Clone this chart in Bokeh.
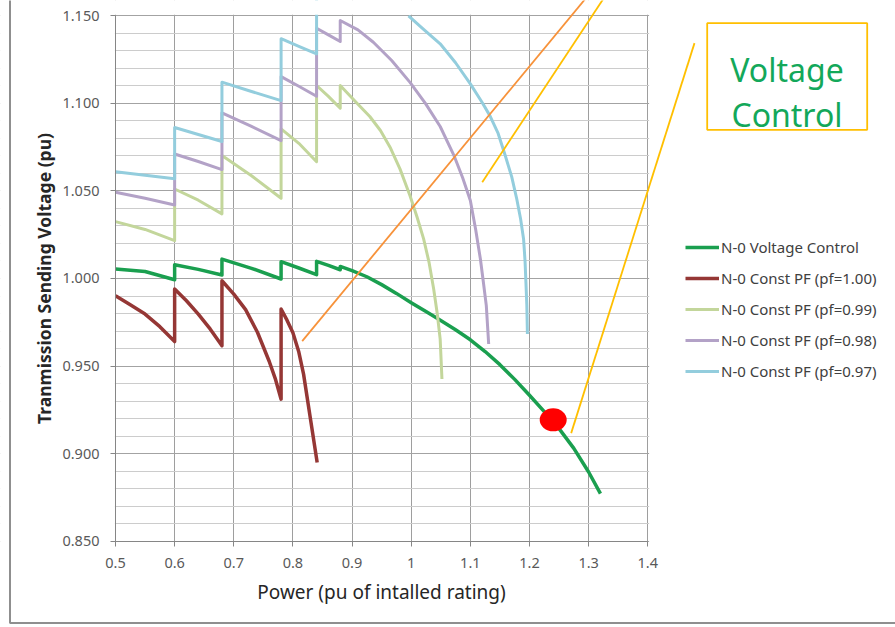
from bokeh.plotting import figure
from bokeh.models import (Range1d, LinearAxis, FixedTicker, Grid, Legend, LegendItem,
                          Label)
from bokeh.embed import file_html
from bokeh.resources import INLINE

NAN = float("nan")

# ---------------- data ----------------
X_TICKS = [0.5, 0.6, 0.7, 0.8, 0.9, 1.0, 1.1, 1.2, 1.3, 1.4]
X_LABELS = ["0.5", "0.6", "0.7", "0.8", "0.9", "1", "1.1", "1.2", "1.3", "1.4"]
Y_TICKS = [0.85, 0.90, 0.95, 1.00, 1.05, 1.10, 1.15]
Y_LABELS = ["0.850", "0.900", "0.950", "1.000", "1.050", "1.100", "1.150"]
Y_MINOR = [0.86, 0.87, 0.88, 0.89, 0.91, 0.92, 0.93, 0.94, 0.96, 0.97, 0.98, 0.99,
           1.01, 1.02, 1.03, 1.04, 1.06, 1.07, 1.08, 1.09, 1.11, 1.12, 1.13, 1.14]

SERIES_NAMES = ["N-0 Voltage Control", "N-0 Const PF (pf=1.00)", "N-0 Const PF (pf=0.99)",
                "N-0 Const PF (pf=0.98)", "N-0 Const PF (pf=0.97)"]

VC_X = [0.50, 0.55, 0.60, 0.60, 0.64, 0.68, 0.68, 0.73, 0.78, 0.78, 0.81, 0.84, 0.84, 0.86,
        0.88, 0.88, 0.90, 0.925, 0.95, 0.975, 1.00, 1.025, 1.05, 1.075, 1.10, 1.125, 1.15,
        1.175, 1.20, 1.225, 1.25, 1.275, 1.30, 1.32]
VC_Y = [1.0054, 1.0040, 0.9993, 1.0079, 1.0052, 1.0020, 1.0111, 1.0058, 0.9997, 1.0096,
        1.0060, 1.0022, 1.0098, 1.0075, 1.0050, 1.0069, 1.0045, 1.0010, 0.9965, 0.9915,
        0.9862, 0.9811, 0.9760, 0.9707, 0.9650, 0.9583, 0.9508, 0.9424, 0.9333, 0.9240,
        0.9143, 0.9030, 0.8895, 0.8772]

PF100_X = [0.50, 0.525, 0.55, 0.575, 0.60, 0.60, 0.62, 0.64, 0.66, 0.68, 0.68, 0.70, 0.72,
           0.74, 0.76, 0.77, 0.78, 0.78, 0.79, 0.80, 0.81, 0.818, 0.83, 0.841]
PF100_Y = [0.9902, 0.9850, 0.9797, 0.9725, 0.9640, 0.9940, 0.9873, 0.9797, 0.9712, 0.9616,
           0.9987, 0.9911, 0.9822, 0.9693, 0.9526, 0.9430, 0.9311, 0.9826, 0.9762, 0.9690,
           0.9580, 0.9454, 0.9190, 0.8949]

PF99_X = [0.50, 0.55, 0.60, 0.60, 0.64, 0.68, 0.68, 0.73, 0.78, 0.78, 0.81, 0.84, 0.84, 0.86,
          0.88, 0.88, 0.91, 0.93, 0.948, 0.965, 0.981, 0.998, 1.01, 1.021, 1.03, 1.038, 1.044,
          1.049, 1.052]
PF99_Y = [1.0325, 1.0280, 1.0216, 1.0511, 1.0447, 1.0369, 1.0702, 1.0587, 1.0458, 1.0854,
          1.0772, 1.0667, 1.1102, 1.1040, 1.0972, 1.1102, 1.0995, 1.0925, 1.0845, 1.0745,
          1.0626, 1.0473, 1.0350, 1.0226, 1.0095, 0.9940, 0.9800, 0.9654, 0.9426]

PF98_X = [0.50, 0.55, 0.60, 0.60, 0.64, 0.68, 0.68, 0.73, 0.78, 0.78, 0.81, 0.84, 0.84, 0.86,
          0.88, 0.88, 0.91, 0.936, 0.967, 0.998, 1.024, 1.049, 1.072, 1.087, 1.100, 1.109,
          1.117, 1.122, 1.127, 1.131]
PF98_Y = [1.0492, 1.0458, 1.0420, 1.0711, 1.0668, 1.0622, 1.0946, 1.0868, 1.0787, 1.1153,
          1.1098, 1.1041, 1.1429, 1.1391, 1.1353, 1.1473, 1.1420, 1.1349, 1.1245, 1.1120,
          1.1000, 1.0868, 1.0705, 1.0575, 1.0445, 1.0280, 1.0111, 0.9980, 0.9845, 0.9626]

# pf=0.97 leaves the chart above 1.150 between 0.84 and ~0.995 (gap = off-chart)
PF97_X = [0.50, 0.55, 0.60, 0.60, 0.64, 0.68, 0.68, 0.73, 0.78, 0.78, 0.81, 0.84, 0.84, NAN,
          0.9955, 1.02, 1.049, 1.075, 1.100, 1.12, 1.133, 1.147, 1.159, 1.17, 1.1785, 1.185,
          1.190, 1.1925, 1.194, 1.1955, 1.1965]
PF97_Y = [1.0610, 1.0590, 1.0569, 1.0862, 1.0822, 1.0782, 1.1121, 1.1068, 1.1016, 1.1369,
          1.1326, 1.1283, 1.1650, NAN, 1.1500, 1.1425, 1.1340, 1.1232, 1.1111, 1.1005,
          1.0930, 1.0828, 1.0702, 1.0580, 1.0454, 1.0340, 1.0226, 1.0100, 0.9978, 0.9850,
          0.9683]

# operating point and callouts (data units)
POINT_X = [1.2401]
POINT_Y = [0.9193]
ORANGE_X = [0.8157, 1.306]
ORANGE_Y = [0.9642, 1.1644]
GOLD1_X = [1.1201, 1.3341]
GOLD1_Y = [1.0550, 1.1644]
GOLD2_X = [1.2705, 1.4790]
GOLD2_Y = [0.9117, 1.1344]
CALLOUT_TEXT = ["Voltage", "Control"]

COLORS = ["#1a9f4f", "#953735", "#c3d69b", "#b3a2c7", "#93cddd"]

# ---------------- geometry ----------------
W, H = 895, 627
PX0, SX = 115.0, 591.4     # pixel of x=0.5, pixels per unit
PY0, SY = 15.3, 1751.3     # pixel of y=1.15, pixels per unit


def dx(px):
    return 0.5 + (px - PX0) / SX


def dy(py):
    return 1.15 - (py - PY0) / SY


p = figure(width=W, height=H,
           x_range=Range1d(dx(0), dx(W)), y_range=Range1d(dy(H), dy(0)),
           output_backend="svg", toolbar_location=None,
           x_axis_location=None, y_axis_location=None,
           min_border=0, outline_line_color=None,
           background_fill_color="white", border_fill_color="white")
p.center = [r for r in p.center if not isinstance(r, Grid)]

xgrid = Grid(dimension=0, ticker=FixedTicker(ticks=X_TICKS),
             grid_line_color="#9e9e9e", grid_line_width=1)
ygrid = Grid(dimension=1, ticker=FixedTicker(ticks=Y_TICKS, minor_ticks=Y_MINOR),
             grid_line_color="#a3a3a3", grid_line_width=1,
             minor_grid_line_color="#cccccc", minor_grid_line_width=1)
p.add_layout(xgrid)
p.add_layout(ygrid)

series = [(VC_X, VC_Y, 3.5), (PF100_X, PF100_Y, 3.5), (PF99_X, PF99_Y, 3),
          (PF98_X, PF98_Y, 3), (PF97_X, PF97_Y, 3)]
renderers = []
for (xs, ys, lw), c in zip(series, COLORS):
    renderers.append(p.line(xs, ys, line_color=c, line_width=lw, line_join="round"))

# white masks outside the plot area (hide grid / clipped curves)
# each mask: (left_px, right_px, top_px, bottom_px)
masks = [(-10, 114.4, -10, H + 10),        # left
         (-10, W + 10, -10, 14.2),         # top
         (-10, W + 10, 541.6, H + 10),     # bottom
         (648.6, W + 10, -10, H + 10)]     # right
p.quad(left=[dx(m[0]) for m in masks], right=[dx(m[1]) for m in masks],
       top=[dy(m[2]) for m in masks], bottom=[dy(m[3]) for m in masks],
       fill_color="white", line_color=None)

# outer chart-area border (left and bottom visible)
p.line([dx(9.5), dx(9.5), dx(W + 10)], [dy(-10), dy(622.5), dy(622.5)],
       line_color="#8f8f8f", line_width=2)

# operating point
p.ellipse(x=POINT_X, y=POINT_Y, width=27, height=23, width_units="screen",
          height_units="screen", fill_color="#ff0000", line_color=None)

# callout lines
p.line(ORANGE_X, ORANGE_Y, line_color="#f7923a", line_width=1.8)
p.line(GOLD1_X, GOLD1_Y, line_color="#ffbf00", line_width=1.8)
p.line(GOLD2_X, GOLD2_Y, line_color="#ffbf00", line_width=1.8)

# callout box
p.quad(left=[dx(706.7)], right=[dx(866.7)], top=[dy(22.7)], bottom=[dy(129.3)],
       fill_color="white", line_color="#ffbf00", line_width=1.8)
for txt, by in zip(CALLOUT_TEXT, [68.5, 113.5]):
    p.add_layout(Label(x=dx(786.5), y=dy(by), text=txt, text_align="center",
                       text_baseline="alphabetic", text_font="Noto Sans",
                       text_font_size="32px", text_color="#13a85a"))

# axes
axis_style = dict(axis_line_color="#868686", major_tick_line_color="#868686",
                  major_tick_out=5, major_tick_in=0, minor_tick_out=0, minor_tick_in=0,
                  major_label_text_font="Noto Sans", major_label_text_font_size="14.5px",
                  major_label_text_color="#595959")
yaxis = LinearAxis(ticker=FixedTicker(ticks=Y_TICKS), fixed_location=0.5, bounds=(0.85, 1.15),
                   major_label_overrides={t: l for t, l in zip(Y_TICKS, Y_LABELS)},
                   major_label_standoff=11, **axis_style)
xaxis = LinearAxis(ticker=FixedTicker(ticks=X_TICKS), fixed_location=0.85, bounds=(0.5, 1.4),
                   major_label_overrides={t: l for t, l in zip(X_TICKS, X_LABELS)},
                   major_label_standoff=12, **axis_style)
p.add_layout(yaxis, "left")
p.add_layout(xaxis, "below")

# axis titles
p.add_layout(Label(x=dx(381), y=dy(591), text="Power (pu of intalled rating)",
                   text_align="center", text_baseline="middle", text_font="Noto Sans",
                   text_font_size="19px", text_color="#262626"))
p.add_layout(Label(x=dx(43), y=dy(278), text="Tranmission Sending Voltage (pu)",
                   angle=90, angle_units="deg", text_align="center", text_baseline="middle",
                   text_font="Noto Sans", text_font_style="bold", text_font_size="17.5px",
                   text_color="#262626"))

# legend
legend = Legend(items=[LegendItem(label=n, renderers=[r]) for n, r in zip(SERIES_NAMES, renderers)],
                location=(685, H - 381), orientation="vertical",
                glyph_width=34, glyph_height=20, label_height=20, spacing=11,
                padding=0, margin=0, label_standoff=2, border_line_color=None,
                background_fill_alpha=0, label_text_font="Noto Sans",
                label_text_font_size="15px", label_text_color="#404040")
p.add_layout(legend)

open("out.html", "w").write(file_html(p, INLINE))
